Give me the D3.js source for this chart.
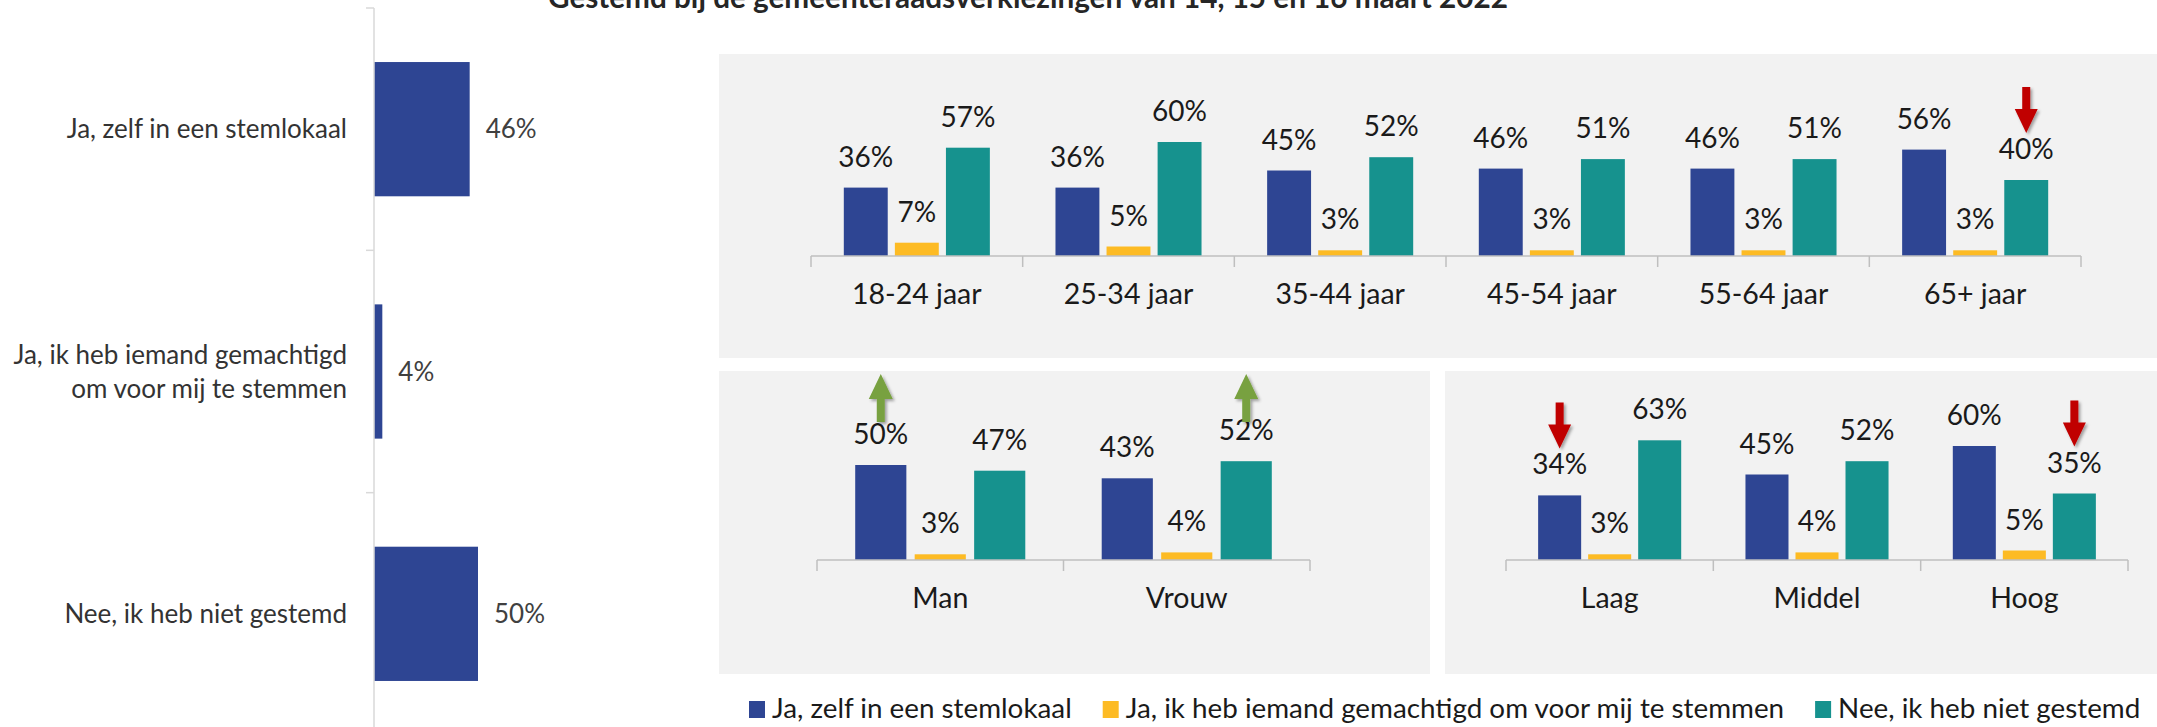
<!DOCTYPE html>
<html>
<head>
<meta charset="utf-8">
<script src="https://cdn.jsdelivr.net/npm/d3@7"></script>
<style>
  body { margin: 0; background: #fff; }
  text { font-family: Lato, "Open Sans", sans-serif; }
</style>
</head>
<body>
<svg id="chart" width="2157" height="727"></svg>
<script>
// series (= antwoorden), shared by all charts
var seriesNames = ["Ja, zelf in een stemlokaal", "Ja, ik heb iemand gemachtigd om voor mij te stemmen", "Nee, ik heb niet gestemd"];
var seriesColors = ["#2E4593", "#FDBB24", "#16928E"];

// totaal
var totalValues = [46, 4, 50];

// leeftijd
var ageCats = ["18-24 jaar", "25-34 jaar", "35-44 jaar", "45-54 jaar", "55-64 jaar", "65+ jaar"];
var ageZelf = [36, 36, 45, 46, 46, 56];
var ageGemachtigd = [7, 5, 3, 3, 3, 3];
var ageNiet = [57, 60, 52, 51, 51, 40];

// geslacht
var genderCats = ["Man", "Vrouw"];
var genderZelf = [50, 43];
var genderGemachtigd = [3, 4];
var genderNiet = [47, 52];

// opleiding
var eduCats = ["Laag", "Middel", "Hoog"];
var eduZelf = [34, 45, 60];
var eduGemachtigd = [3, 4, 5];
var eduNiet = [63, 52, 35];

// significante verschillen (pijlen)
var arrows = [
  {panel: "age", cat: "65+ jaar", serie: 2, dir: "down"},
  {panel: "gender", cat: "Man", serie: 0, dir: "up"},
  {panel: "gender", cat: "Vrouw", serie: 2, dir: "up"},
  {panel: "edu", cat: "Laag", serie: 0, dir: "down"},
  {panel: "edu", cat: "Hoog", serie: 2, dir: "down"}
];

var title = "Gestemd bij de gemeenteraadsverkiezingen van 14, 15 en 16 maart 2022";

var svg = d3.select("#chart");

var defs = svg.append("defs");
var shadow = defs.append("filter").attr("id", "shadow").attr("x", "-50%").attr("y", "-50%").attr("width", "200%").attr("height", "200%");
shadow.append("feDropShadow").attr("dx", 2).attr("dy", 2).attr("stdDeviation", 1.5).attr("flood-opacity", 0.35);

// title (cut off at the top in the original)
svg.append("text")
  .attr("x", 1028).attr("y", 8)
  .attr("text-anchor", "middle")
  .attr("font-weight", "bold")
  .attr("font-size", 29.7)
  .attr("fill", "#262626")
  .text(title);

// ---------- left: totaal ----------
var left = svg.append("g");
var yTot = d3.scaleBand().domain(seriesNames).range([8, 735]).paddingInner(0.446).paddingOuter(0.223);
var xTot = d3.scaleLinear().domain([0, 100]).range([374, 582]);

left.selectAll("rect.bar")
  .data(totalValues).enter()
  .append("rect")
  .attr("class", "bar")
  .attr("x", xTot(0))
  .attr("y", function (d, i) { return yTot(seriesNames[i]); })
  .attr("width", function (d) { return xTot(d) - xTot(0); })
  .attr("height", yTot.bandwidth())
  .attr("fill", seriesColors[0]);

left.selectAll("text.val")
  .data(totalValues).enter()
  .append("text")
  .attr("class", "val")
  .attr("x", function (d) { return xTot(d) + 16; })
  .attr("y", function (d, i) { return yTot(seriesNames[i]) + yTot.bandwidth() / 2; })
  .attr("dy", "0.35em")
  .attr("font-size", 26)
  .attr("fill", "#404040")
  .text(function (d) { return d + "%"; });

// axis line + ticks between categories
var yTop = yTot.range()[0], yBot = yTot.range()[1];
left.append("line").attr("x1", xTot(0)).attr("x2", xTot(0)).attr("y1", yTop).attr("y2", yBot)
  .attr("stroke", "#D9D9D9").attr("stroke-width", 1.5);
left.selectAll("line.tick")
  .data(d3.range(seriesNames.length + 1)).enter()
  .append("line")
  .attr("class", "tick")
  .attr("x1", xTot(0) - 8).attr("x2", xTot(0))
  .attr("y1", function (i) { return yTop + i * yTot.step(); })
  .attr("y2", function (i) { return yTop + i * yTot.step(); })
  .attr("stroke", "#D9D9D9").attr("stroke-width", 1.5);

// category labels, wrapped
left.selectAll("text.cat")
  .data(seriesNames).enter()
  .append("text")
  .attr("class", "cat")
  .attr("text-anchor", "end")
  .attr("font-size", 26)
  .attr("fill", "#333")
  .each(function (d) {
    var t = d3.select(this);
    var words = d.split(" "), lines = [], line = [];
    words.forEach(function (w) {
      line.push(w);
      t.text(line.join(" "));
      if (this.getComputedTextLength() > 355 && line.length > 1) {
        line.pop();
        lines.push(line.join(" "));
        line = [w];
      }
    }, this);
    lines.push(line.join(" "));
    t.text(null);
    var cy = yTot(d) + yTot.bandwidth() / 2;
    lines.forEach(function (l, k) {
      t.append("tspan")
        .attr("x", xTot(0) - 27)
        .attr("y", cy + (k - (lines.length - 1) / 2) * 34)
        .attr("dy", "0.35em")
        .text(l);
    });
  });

// ---------- right: panels ----------
var panels = {
  age: {cats: ageCats, vals: [ageZelf, ageGemachtigd, ageNiet], box: [719, 54, 1438, 304], axis: [811, 2081], base: 256},
  gender: {cats: genderCats, vals: [genderZelf, genderGemachtigd, genderNiet], box: [719, 371, 711, 303], axis: [817, 1310], base: 560},
  edu: {cats: eduCats, vals: [eduZelf, eduGemachtigd, eduNiet], box: [1445, 371, 712, 303], axis: [1506, 2128], base: 560}
};

function drawPanel(p) {
  var g = svg.append("g");
  g.append("rect")
    .attr("x", p.box[0]).attr("y", p.box[1])
    .attr("width", p.box[2]).attr("height", p.box[3])
    .attr("fill", "#F2F2F2");

  var x0 = d3.scaleBand().domain(p.cats).range(p.axis);
  var gw = x0.bandwidth() * 0.69;
  var x1 = d3.scaleBand().domain(d3.range(seriesNames.length))
    .range([(x0.bandwidth() - gw) / 2, (x0.bandwidth() + gw) / 2])
    .paddingInner(0.14);
  var y = d3.scaleLinear().domain([0, 100]).range([p.base, p.base - 190]);
  p.x0 = x0; p.x1 = x1; p.y = y; p.g = g;

  var rows = p.cats.map(function (c, i) {
    return {cat: c, vals: p.vals.map(function (s) { return s[i]; })};
  });

  var groups = g.selectAll("g.grp")
    .data(rows).enter()
    .append("g")
    .attr("class", "grp")
    .attr("transform", function (d) { return "translate(" + x0(d.cat) + ",0)"; });

  groups.selectAll("rect")
    .data(function (d) { return d.vals; }).enter()
    .append("rect")
    .attr("x", function (v, i) { return x1(i); })
    .attr("y", function (v) { return y(v); })
    .attr("width", x1.bandwidth())
    .attr("height", function (v) { return y(0) - y(v); })
    .attr("fill", function (v, i) { return seriesColors[i]; });

  groups.selectAll("text")
    .data(function (d) { return d.vals; }).enter()
    .append("text")
    .attr("x", function (v, i) { return x1(i) + x1.bandwidth() / 2; })
    .attr("y", function (v) { return y(v) - 21; })
    .attr("text-anchor", "middle")
    .attr("font-size", 28)
    .attr("fill", "#1a1a1a")
    .text(function (v) { return v + "%"; });

  // baseline with ticks at category boundaries
  g.append("line")
    .attr("x1", p.axis[0]).attr("x2", p.axis[1])
    .attr("y1", y(0)).attr("y2", y(0))
    .attr("stroke", "#BFBFBF").attr("stroke-width", 1.5);
  g.selectAll("line.tick")
    .data(d3.range(p.cats.length + 1)).enter()
    .append("line")
    .attr("class", "tick")
    .attr("x1", function (i) { return p.axis[0] + i * x0.step(); })
    .attr("x2", function (i) { return p.axis[0] + i * x0.step(); })
    .attr("y1", y(0)).attr("y2", y(0) + 11)
    .attr("stroke", "#BFBFBF").attr("stroke-width", 1.5);

  var axis = d3.axisBottom(x0).tickSize(0).tickSizeOuter(0);
  var ax = g.append("g").attr("transform", "translate(0," + y(0) + ")").call(axis);
  ax.select(".domain").remove();
  ax.selectAll("text")
    .attr("y", 48).attr("dy", 0)
    .attr("font-size", 28.5)
    .attr("font-family", "Lato, 'Open Sans', sans-serif")
    .attr("fill", "#1a1a1a");
}

Object.keys(panels).forEach(function (k) { drawPanel(panels[k]); });

// ---------- arrows ----------
arrows.forEach(function (a) {
  var p = panels[a.panel];
  var i = p.cats.indexOf(a.cat);
  var v = p.vals[a.serie][i];
  var cx = p.x0(a.cat) + p.x1(a.serie) + p.x1.bandwidth() / 2;
  var pts, col;
  if (a.dir === "down") {
    // tip just above the value label
    var tip = p.y(v) - 21 - 26, top = tip - 46;
    pts = [[cx - 4, top], [cx + 4, top], [cx + 4, tip - 24], [cx + 11.5, tip - 24], [cx, tip],
           [cx - 11.5, tip - 24], [cx - 4, tip - 24]];
    col = "#C00000";
  } else {
    // up arrows sit at the top of their panel
    var tipU = p.box[1] + 3, bot = tipU + 48;
    pts = [[cx, tipU], [cx + 12, tipU + 25], [cx + 4, tipU + 25], [cx + 4, bot], [cx - 4, bot],
           [cx - 4, tipU + 25], [cx - 12, tipU + 25]];
    col = "#78A13F";
  }
  svg.append("path")
    .attr("d", d3.line()(pts) + "Z")
    .attr("fill", col)
    .attr("filter", "url(#shadow)");
});

// ---------- legend ----------
var legend = svg.append("g");
var lx = 749;
seriesNames.forEach(function (s, i) {
  legend.append("rect")
    .attr("x", lx).attr("y", 701)
    .attr("width", 16).attr("height", 17)
    .attr("fill", seriesColors[i]);
  var t = legend.append("text")
    .attr("x", lx + 23).attr("y", 718)
    .attr("font-size", 27.8)
    .attr("fill", "#1a1a1a")
    .text(s);
  lx += 23 + t.node().getComputedTextLength() + 31;
});
</script>
</body>
</html>
